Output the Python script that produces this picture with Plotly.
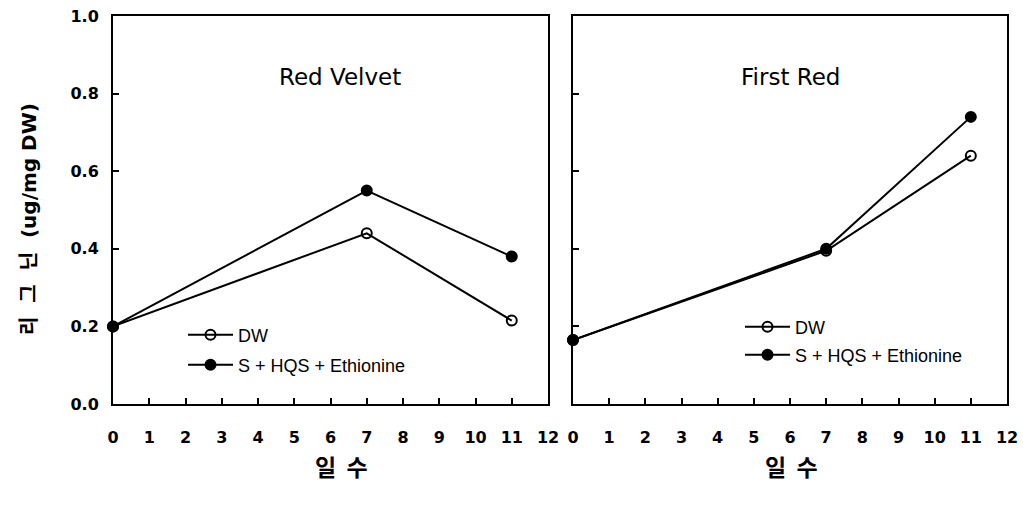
import plotly.graph_objects as go
from plotly.subplots import make_subplots

days = [0, 7, 11]
rv_dw = [0.20, 0.44, 0.215]
rv_trt = [0.20, 0.55, 0.38]
fr_dw = [0.165, 0.395, 0.64]
fr_trt = [0.165, 0.40, 0.74]
x_ticks = list(range(0, 13))
y_ticks = [0.0, 0.2, 0.4, 0.6, 0.8, 1.0]
y_tick_text = ["0.0", "0.2", "0.4", "0.6", "0.8", "1.0"]
panel_titles = ["Red Velvet", "First Red"]
series_names = ["DW", "S + HQS + Ethionine"]

W, H = 1023, 506
fig = make_subplots(rows=1, cols=2)

line = dict(color="black", width=2)
def add(x, y, name, filled, col, legend):
    fig.add_trace(go.Scatter(
        x=x, y=y, name=name, mode="lines+markers", line=line,
        marker=dict(symbol="circle" if filled else "circle-open", size=10,
                    color="black", line=dict(color="black", width=2)),
        cliponaxis=False, legend=legend, showlegend=True), row=1, col=col)

add(days, rv_dw, series_names[0], False, 1, "legend")
add(days, rv_trt, series_names[1], True, 1, "legend2")
add(days, fr_dw, series_names[0], False, 2, "legend3")
add(days, fr_trt, series_names[1], True, 2, "legend4")

tickfont = dict(family="DejaVu Sans", size=16, color="black", weight="bold")
xa = dict(range=[0, 12], tickvals=x_ticks, ticks="inside", ticklen=6, tickwidth=1.5,
          tickcolor="black", showline=True, linecolor="black", linewidth=2, mirror=True,
          showgrid=False, zeroline=False, tickfont=tickfont, automargin=False,
          ticklabelstandoff=18)
ya = dict(range=[0, 1.0], tickvals=y_ticks, ticktext=y_tick_text, ticks="inside", ticklen=6,
          tickwidth=1.5, tickcolor="black", showline=True, linecolor="black", linewidth=2,
          mirror=True, showgrid=False, zeroline=False, tickfont=tickfont, automargin=False,
          ticklabelstandoff=9)

def leg(xpx, ypx):
    return dict(x=xpx / W, y=1 - ypx / H, xanchor="left", yanchor="middle",
                bgcolor="rgba(0,0,0,0)", font=dict(size=18, family="Liberation Sans"),
                itemwidth=45, visible=True)

fig.update_layout(
    width=W, height=H, margin=dict(l=0, r=0, t=0, b=0),
    paper_bgcolor="white", plot_bgcolor="white", showlegend=True,
    xaxis=dict(xa, domain=[113 / W, 548 / W]),
    xaxis2=dict(xa, domain=[573 / W, 1007 / W]),
    yaxis=dict(ya, domain=[1 - 404 / H, 1 - 16 / H]),
    yaxis2=dict(ya, domain=[1 - 404 / H, 1 - 16 / H], showticklabels=False),
    font=dict(family="Liberation Sans, Arial", color="black"),
    legend=leg(183, 335),
    legend2=leg(183, 365),
    legend3=leg(740, 327),
    legend4=leg(740, 355),
)

def ann(text, xpx, ypx, font, angle=0):
    fig.add_annotation(text=text, x=xpx / W, y=1 - ypx / H, xref="paper", yref="paper",
                       xanchor="center", yanchor="middle", showarrow=False,
                       textangle=angle, font=font)

tfont = dict(size=23, family="DejaVu Sans", color="black")
ann(panel_titles[0], 340, 77, tfont)
ann(panel_titles[1], 790, 77, tfont)

kfont = dict(size=23, family="Noto Sans CJK KR", color="black", weight="bold")
ann("일  수", 341, 466, kfont)
ann("일  수", 791, 466, kfont)
ann("리  그  닌  (ug/mg DW)", 29, 219,
    dict(size=20, family="DejaVu Sans, Noto Sans CJK KR", color="black", weight="bold"), -90)

fig.write_html("out.html")
